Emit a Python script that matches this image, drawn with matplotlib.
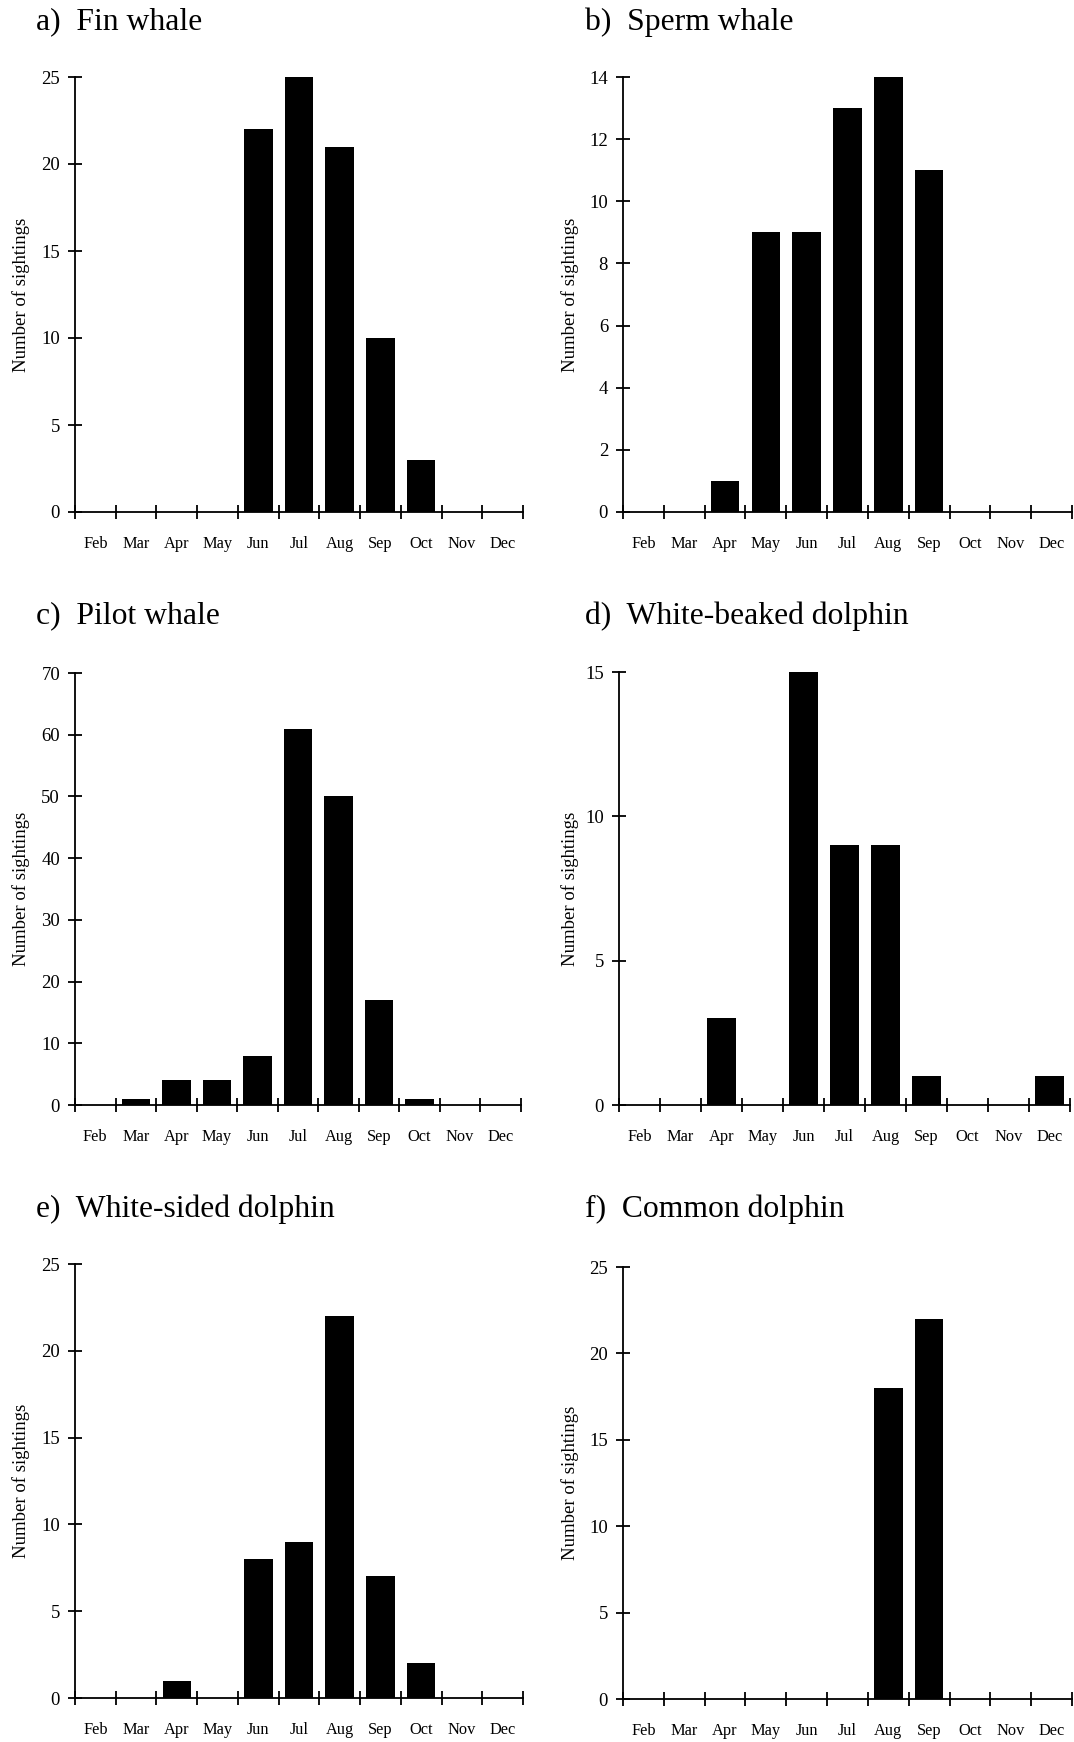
import matplotlib
matplotlib.use("Agg")
import matplotlib.pyplot as plt
import numpy as np

months = ["Feb", "Mar", "Apr", "May", "Jun", "Jul", "Aug", "Sep", "Oct", "Nov", "Dec"]

fin_whale = [0, 0, 0, 0, 22, 25, 21, 10, 3, 0, 0]
sperm_whale = [0, 0, 1, 9, 9, 13, 14, 11, 0, 0, 0]
pilot_whale = [0, 1, 4, 4, 8, 61, 50, 17, 1, 0, 0]
white_beaked = [0, 0, 3, 0, 15, 9, 9, 1, 0, 0, 1]
white_sided = [0, 0, 1, 0, 8, 9, 22, 7, 2, 0, 0]
common_dolphin = [0, 0, 0, 0, 0, 0, 18, 22, 0, 0, 0]

titles = ["a)  Fin whale", "b)  Sperm whale", "c)  Pilot whale",
          "d)  White-beaked dolphin", "e)  White-sided dolphin", "f)  Common dolphin"]
series = [fin_whale, sperm_whale, pilot_whale, white_beaked, white_sided, common_dolphin]
y_ticks = [np.arange(0, 26, 5), np.arange(0, 15, 2), np.arange(0, 71, 10),
           np.arange(0, 16, 5), np.arange(0, 26, 5), np.arange(0, 26, 5)]

plt.rcParams["font.family"] = ["Liberation Serif", "DejaVu Serif"]

W, H = 1074, 1742
fig = plt.figure(figsize=(W / 100, H / 100), dpi=100)

# panel boxes in pixels: (left, right, y of zero line, y of top tick)
boxes = [(75, 523, 512, 77), (623, 1072, 512, 77),
         (75, 521, 1105, 673), (619, 1070, 1105, 672),
         (75, 523, 1698, 1264), (623, 1072, 1699, 1267)]
title_pos = [(36, 22), (585, 22), (36, 616), (585, 616), (36, 1209), (585, 1209)]
ylabel_x = [30, 579, 30, 579, 30, 579]

for i in range(6):
    l, r, y0, y1 = boxes[i]
    ax = fig.add_axes([l / W, (H - y0) / H, (r - l) / W, (y0 - y1) / H])
    x = np.arange(len(months))
    ax.bar(x, series[i], width=0.7, color="black", linewidth=0)
    ax.set_xlim(-0.5, len(months) - 0.5)
    ax.set_ylim(0, y_ticks[i][-1])
    ax.set_yticks(y_ticks[i])
    ax.set_xticks(np.arange(-0.5, len(months)), minor=False)
    ax.set_xticklabels([])
    ax.set_xticks(x, minor=True)
    ax.set_xticklabels(months, minor=True, fontsize=11.8)
    ax.tick_params(axis="x", which="major", direction="inout", length=9.5, width=1.3)
    ax.tick_params(axis="x", which="minor", length=0, pad=17)
    ax.tick_params(axis="y", direction="inout", length=9.5, width=1.3, labelsize=13.5, pad=6)
    for s in ("top", "right"):
        ax.spines[s].set_visible(False)
    for s in ("left", "bottom"):
        ax.spines[s].set_linewidth(1.3)
    ax.set_ylabel("Number of sightings", fontsize=13.5)
    ax.yaxis.set_label_coords((ylabel_x[i] - l) / (r - l), 0.5)
    tx, ty = title_pos[i]
    fig.text(tx / W, (H - ty) / H, titles[i], fontsize=22.8, ha="left", va="center")

fig.savefig("out.png", dpi=100)
